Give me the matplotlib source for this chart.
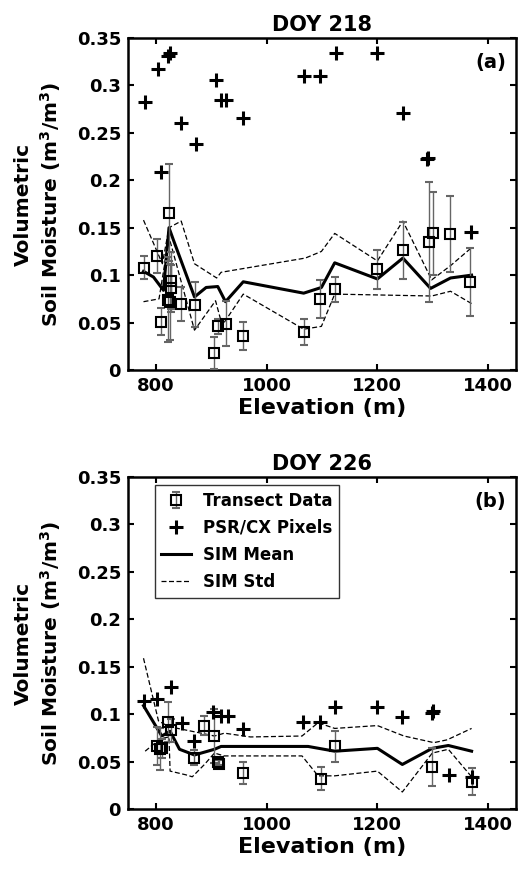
import numpy as np
import matplotlib
matplotlib.use("Agg")
import matplotlib.pyplot as plt

plt.rcParams["font.family"] = ["DejaVu Sans"]
plt.rcParams["font.weight"] = "bold"
plt.rcParams["mathtext.fontset"] = "dejavusans"
plt.rcParams["mathtext.default"] = "bf"

# ---------------- DOY 218 ----------------
psr_a_x = [780, 805, 823, 825, 809, 846, 873, 908, 918, 927, 958, 1067, 1097, 1125, 1200, 1246, 1290, 1292, 1369]
psr_a_y = [0.283, 0.317, 0.331, 0.334, 0.209, 0.260, 0.238, 0.306, 0.285, 0.285, 0.266, 0.310, 0.310, 0.334, 0.334, 0.271, 0.222, 0.224, 0.145]

tr_a_x = [779, 802, 809, 824, 827, 827, 822, 826, 846, 871, 906, 912, 927, 958, 1068, 1096, 1124, 1200, 1246, 1294, 1300, 1331, 1368]
tr_a_y = [0.108, 0.120, 0.051, 0.166, 0.094, 0.086, 0.074, 0.072, 0.070, 0.069, 0.018, 0.046, 0.049, 0.036, 0.040, 0.075, 0.085, 0.106, 0.126, 0.135, 0.144, 0.143, 0.093]
tr_a_err = [0.012, 0.018, 0.014, 0.051, 0.030, 0.025, 0.045, 0.040, 0.018, 0.024, 0.017, 0.008, 0.024, 0.015, 0.014, 0.020, 0.013, 0.021, 0.030, 0.063, 0.044, 0.040, 0.036]

mean_a_x = [778, 796, 814, 824, 832, 870, 891, 912, 926, 958, 1067, 1099, 1123, 1200, 1246, 1296, 1332, 1370]
mean_a_y = [0.104, 0.098, 0.084, 0.150, 0.137, 0.077, 0.087, 0.088, 0.072, 0.093, 0.081, 0.087, 0.113, 0.096, 0.118, 0.086, 0.097, 0.100]

up_a_x = [778, 812, 824, 846, 870, 910, 918, 1070, 1099, 1123, 1200, 1246, 1298, 1332, 1370]
up_a_y = [0.158, 0.112, 0.150, 0.157, 0.112, 0.097, 0.103, 0.118, 0.125, 0.144, 0.115, 0.157, 0.095, 0.110, 0.129]

lo_a_x = [778, 806, 824, 870, 908, 920, 958, 1067, 1099, 1123, 1298, 1332, 1370]
lo_a_y = [0.072, 0.075, 0.140, 0.042, 0.073, 0.047, 0.080, 0.043, 0.046, 0.080, 0.078, 0.083, 0.070]

# ---------------- DOY 226 ----------------
psr_b_x = [778, 803, 827, 848, 870, 904, 918, 930, 957, 1065, 1096, 1124, 1200, 1245, 1299, 1301, 1330, 1370]
psr_b_y = [0.114, 0.116, 0.129, 0.091, 0.072, 0.102, 0.098, 0.098, 0.084, 0.092, 0.092, 0.108, 0.108, 0.097, 0.101, 0.103, 0.036, 0.034]

tr_b_x = [803, 808, 812, 823, 827, 870, 887, 905, 913, 915, 958, 1098, 1124, 1299, 1370]
tr_b_y = [0.066, 0.063, 0.064, 0.092, 0.083, 0.054, 0.088, 0.077, 0.050, 0.048, 0.038, 0.032, 0.066, 0.044, 0.029]
tr_b_err = [0.020, 0.022, 0.010, 0.021, 0.012, 0.008, 0.010, 0.028, 0.004, 0.004, 0.012, 0.012, 0.016, 0.020, 0.014]

mean_b_x = [778, 811, 826, 843, 870, 894, 906, 918, 958, 1075, 1123, 1200, 1245, 1299, 1328, 1370]
mean_b_y = [0.109, 0.077, 0.082, 0.063, 0.057, 0.061, 0.063, 0.066, 0.066, 0.066, 0.061, 0.064, 0.047, 0.064, 0.067, 0.061]

up_b_x = [778, 805, 823, 882, 906, 924, 971, 1064, 1093, 1123, 1200, 1248, 1302, 1326, 1370]
up_b_y = [0.159, 0.093, 0.087, 0.080, 0.077, 0.080, 0.076, 0.077, 0.091, 0.085, 0.088, 0.077, 0.070, 0.073, 0.085]

lo_b_x = [781, 808, 824, 826, 855, 866, 888, 906, 924, 1064, 1093, 1123, 1200, 1245, 1299, 1328, 1370]
lo_b_y = [0.061, 0.074, 0.076, 0.040, 0.036, 0.034, 0.047, 0.059, 0.056, 0.056, 0.035, 0.035, 0.040, 0.018, 0.059, 0.063, 0.034]

yticks = [0, 0.05, 0.1, 0.15, 0.2, 0.25, 0.3, 0.35]
ytick_labels = ["0", "0.05", "0.1", "0.15", "0.2", "0.25", "0.3", "0.35"]
xticks = [800, 1000, 1200, 1400]


def draw_panel(ax, title, tag, tx, ty, terr, px, py, mx, my, ux, uy, lx, ly):
    eb = ax.errorbar(tx, ty, yerr=terr, fmt="s", ms=7, mfc="none", mec="black",
                     mew=1.5, ecolor="0.4", elinewidth=1, capsize=3, zorder=3,
                     label="Transect Data")
    pl, = ax.plot(px, py, "+", color="black", ms=10, mew=2.2, label="PSR/CX Pixels", zorder=4)
    ml, = ax.plot(mx, my, "-", color="black", lw=2.2, label="SIM Mean", zorder=2)
    sl, = ax.plot(ux, uy, "--", color="black", lw=0.9, dashes=(4, 2), label="SIM Std", zorder=2)
    ax.plot(lx, ly, "--", color="black", lw=0.9, dashes=(4, 2), zorder=2)

    ax.set_xlim(750, 1450)
    ax.set_ylim(0, 0.35)
    ax.set_xticks(xticks)
    ax.set_yticks(yticks)
    ax.set_yticklabels(ytick_labels)
    ax.tick_params(direction="in", top=True, right=True, labelsize=13, width=1.5, length=4, pad=5)
    for s in ax.spines.values():
        s.set_linewidth(1.8)
    ax.set_title(title, fontsize=15, fontweight="bold", pad=5)
    ax.set_xlabel("Elevation (m)", fontsize=16, fontweight="bold", labelpad=2)
    ax.set_ylabel("Volumetric\nSoil Moisture (m$^3$/m$^3$)", fontsize=14.5,
                  fontweight="bold", labelpad=10, linespacing=1.25)
    ax.text(0.975, 0.955, tag, transform=ax.transAxes, ha="right", va="top",
            fontsize=14, fontweight="bold")
    return eb, pl, ml, sl


fig = plt.figure(figsize=(5.19, 8.72), dpi=100)
ax1 = fig.add_axes([0.2466, 0.5757, 0.7475, 0.3807])
ax2 = fig.add_axes([0.2466, 0.0722, 0.7475, 0.3807])

draw_panel(ax1, "DOY 218", "(a)", tr_a_x, tr_a_y, tr_a_err, psr_a_x, psr_a_y,
           mean_a_x, mean_a_y, up_a_x, up_a_y, lo_a_x, lo_a_y)
handles = draw_panel(ax2, "DOY 226", "(b)", tr_b_x, tr_b_y, tr_b_err, psr_b_x, psr_b_y,
                     mean_b_x, mean_b_y, up_b_x, up_b_y, lo_b_x, lo_b_y)

leg = ax2.legend(handles=list(handles), loc="upper left", bbox_to_anchor=(0.069, 0.976),
                 borderaxespad=0, fontsize=12, frameon=True, fancybox=False,
                 edgecolor="black", handlelength=1.8, borderpad=0.4,
                 labelspacing=0.55, handletextpad=0.7)
leg.get_frame().set_linewidth(1.0)

fig.savefig("out.png", dpi=100)
